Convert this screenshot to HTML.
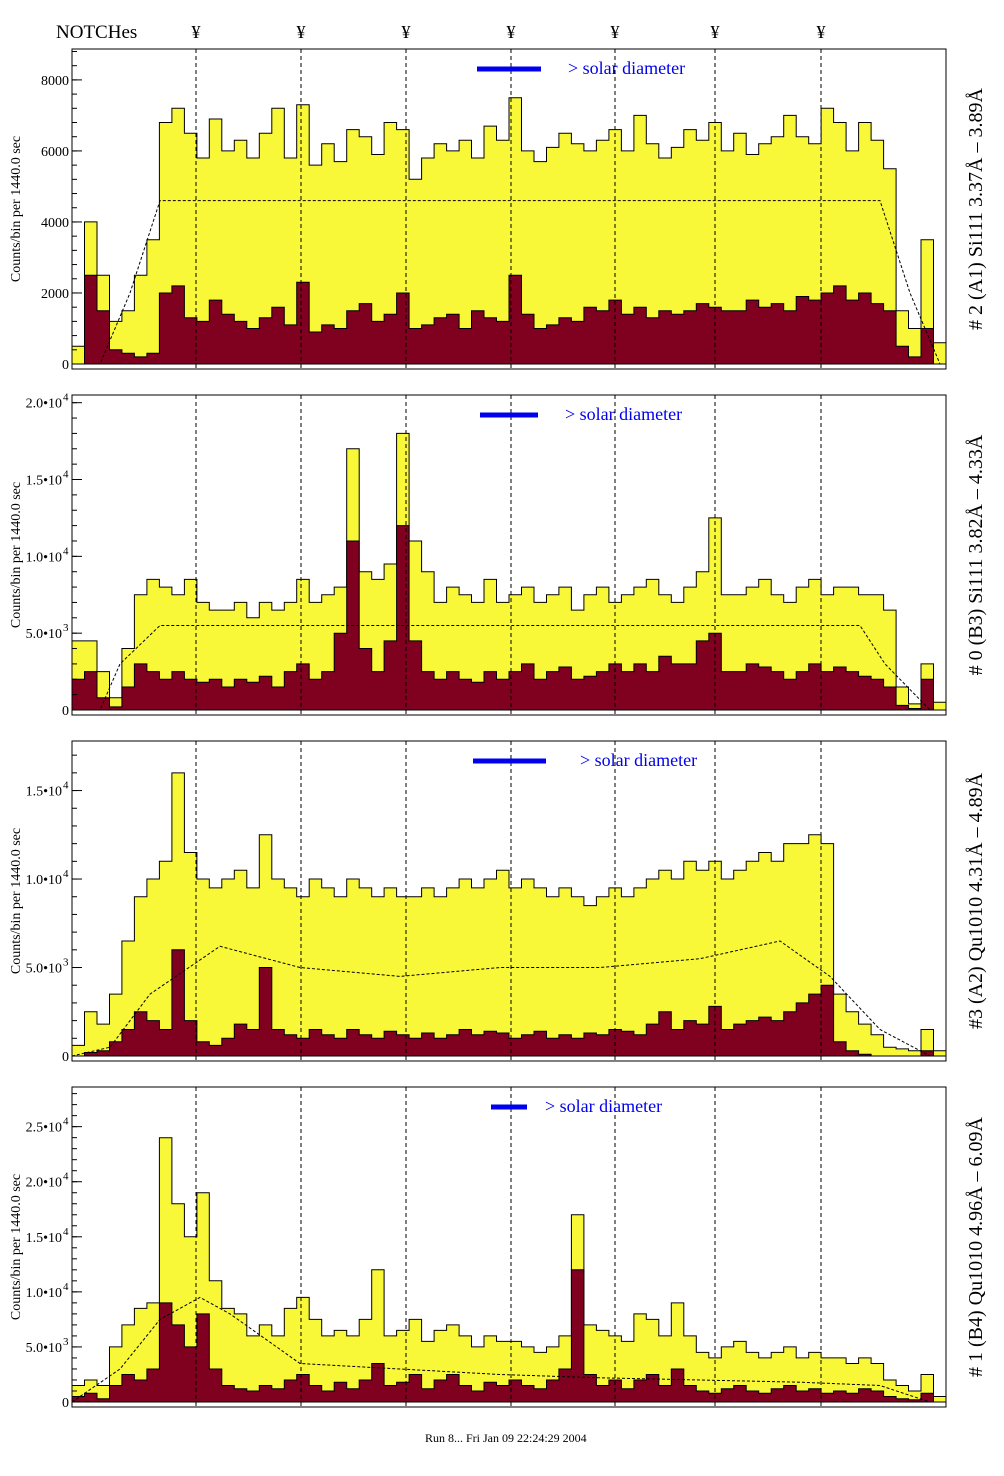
<!DOCTYPE html>
<html><head><meta charset="utf-8"><title>Notch spectra</title>
<style>
html,body{margin:0;padding:0;background:#fff;}
svg{display:block;font-family:"Liberation Serif",serif;}
</style></head>
<body>
<svg id="chart" width="1004" height="1476" viewBox="0 0 1004 1476" xmlns="http://www.w3.org/2000/svg">
<rect x="0" y="0" width="1004" height="1476" fill="#fff"/>
<text x="56" y="38" font-size="19">NOTCHes</text>
<g id="notchLabels"></g>
<g id="panels"></g>
<text x="425" y="1442" font-size="12">Run 8... Fri Jan 09 22:24:29 2004</text>
</svg>
<script>
// ---- data ----
const notchX = [196, 301, 406, 511, 615, 715, 821];
const panelLabels = ["# 2 (A1) Si111  3.37Å – 3.89Å", "# 0 (B3) Si111  3.82Å – 4.33Å", "#3 (A2) Qu1010  4.31Å – 4.89Å", "# 1 (B4) Qu1010 4.96Å – 6.09Å"];
const yMax = [8870, 20500, 17800, 28600];
const tickValsP1 = [0, 2000, 4000, 6000, 8000];
const tickLabsP1 = ["0", "2000", "4000", "6000", "8000"];
const tickValsP2 = [0, 5000, 10000, 15000, 20000];
const tickLabsP2 = ["0", "5.0", "1.0", "1.5", "2.0"];
const tickExpP2 = ["", "3", "4", "4", "4"];
const tickValsP3 = [0, 5000, 10000, 15000];
const tickLabsP3 = ["0", "5.0", "1.0", "1.5"];
const tickExpP3 = ["", "3", "4", "4"];
const tickValsP4 = [0, 5000, 10000, 15000, 20000, 25000];
const tickLabsP4 = ["0", "5.0", "1.0", "1.5", "2.0", "2.5"];
const tickExpP4 = ["", "3", "4", "4", "4", "4"];

const yellowP1 = [500,4000,2500,1200,1500,2500,3500,6800,7200,6500,5800,6900,6000,6300,5800,6500,7200,5800,7300,5600,6200,5700,6600,6400,5900,6800,6600,5200,5800,6200,6000,6300,5800,6700,6300,7500,6000,5700,6100,6500,6200,6000,6300,6600,6000,7000,6200,5800,6100,6600,6300,6800,6000,6500,5900,6200,6400,7000,6400,6200,7200,6800,6000,6800,6300,5500,1500,1000,3500,600];
const darkP1 = [0,2500,1500,400,300,200,300,2000,2200,1300,1200,1800,1400,1200,1000,1300,1600,1100,2300,900,1100,1000,1500,1700,1200,1400,2000,1000,1100,1300,1400,1000,1500,1300,1200,2500,1400,1000,1100,1300,1200,1600,1500,1800,1400,1600,1300,1500,1400,1500,1700,1600,1500,1500,1800,1600,1700,1500,1900,1800,2000,2200,1800,2000,1700,1500,500,200,1000,0];
const yellowP2 = [4500,4500,2500,800,4000,7500,8500,8000,7500,8500,7000,6500,6500,7000,6000,7000,6500,7000,8500,7000,7500,8000,17000,9000,8500,9500,18000,11000,9000,7000,8000,7500,7000,8500,7000,7500,8000,7000,7500,8000,6500,7500,8000,7000,7500,8000,8500,7500,7000,8000,9000,12500,7500,7500,8000,8500,7500,7000,8000,8500,7500,8000,8000,7500,7500,6500,1500,400,3000,500];
const darkP2 = [2000,2500,800,200,1500,3000,2500,2000,2500,2000,1800,2000,1500,2000,1800,2200,1500,2500,3000,2000,2500,5000,11000,4000,2500,4500,12000,4500,2500,2000,2500,2000,1800,2500,2000,2500,3000,2000,2500,2800,2000,2200,2500,3000,2500,3000,2500,3500,3000,3000,4500,5000,2500,2500,3000,2800,2500,2000,2500,3000,2500,2800,2500,2200,2000,1500,300,100,2000,0];
const yellowP3 = [600,2500,1800,3500,6500,9000,10000,11000,16000,11500,10000,9500,10000,10500,9500,12500,10000,9500,9000,10000,9500,9000,10000,9500,9000,9500,9000,9000,9500,9000,9500,10000,9500,10000,10500,9500,10000,9500,9000,9500,9000,8500,9000,9500,9000,9500,10000,10500,10000,11000,10500,11000,10000,10500,11000,11500,11000,12000,12000,12500,12000,3500,2500,1800,1200,500,400,300,1500,300];
const darkP3 = [0,200,300,800,1500,2500,2000,1500,6000,2000,800,600,1000,1800,1500,5000,1500,1200,1000,1500,1200,1000,1500,1200,1000,1400,1200,1000,1300,1000,1200,1500,1200,1400,1300,1000,1200,1400,1000,1200,1000,1300,1200,1500,1400,1200,1800,2500,1500,2000,1800,2800,1500,1800,2000,2200,2000,2500,3000,3500,4000,800,300,100,0,0,0,0,300,0];
const yellowP4 = [1500,2000,1500,5000,7000,8500,9000,24000,18000,15000,19000,11000,8500,8000,6000,7000,6000,8500,9500,7500,6000,6500,6000,7500,12000,6000,6500,7500,5500,6500,7000,6000,5000,6000,5500,5500,5000,4500,5000,6000,17000,7000,6500,6000,5500,8000,7500,6000,9000,6000,4500,4000,5000,5500,4500,4000,4500,5000,4000,4500,4000,4000,3500,4000,3500,2000,1500,1000,2500,500];
const darkP4 = [500,800,300,1500,2500,2000,3000,9000,7000,5000,8000,3000,1500,1200,1000,1500,1200,2000,2500,1500,1000,1800,1200,2000,3500,1500,1800,2500,1200,2000,2500,1500,1000,1800,1500,2000,1500,1200,2000,3000,12000,2500,1500,2000,1200,2000,2500,1500,3000,1500,1000,800,1200,1500,1000,800,1200,1500,1000,1200,800,1000,800,1200,1000,500,300,200,800,0];

const yellowSeries = [yellowP1, yellowP2, yellowP3, yellowP4];
const darkSeries = [darkP1, darkP2, darkP3, darkP4];
const tickVals = [tickValsP1, tickValsP2, tickValsP3, tickValsP4];
const tickLabs = [tickLabsP1, tickLabsP2, tickLabsP3, tickLabsP4];
const tickExps = [null, tickExpP2, tickExpP3, tickExpP4];
const modelXs = [[72,100,130,160,880,910,940],[72,100,120,160,860,885,930],[72,110,150,220,300,400,500,600,700,780,830,880,930],[72,120,160,200,230,300,400,500,600,700,800,880,930]];
const modelYs = [[0,0,2000,4600,4600,2000,0],[0,0,3000,5500,5500,3000,0],[0,500,3500,6200,5000,4500,5000,5000,5500,6500,4500,1500,0],[0,3000,7500,9500,8000,3500,3000,2500,2200,2000,1800,1500,0]];

// ---- layout ----
const NS = "http://www.w3.org/2000/svg";
const X0 = 72, X1 = 946, PH = 320;
const panelTop = [49, 395, 741, 1087];
const blueBar = [[477,541,568],[480,538,565],[473,546,580],[491,527,545]];

function mk(tag, attrs, parent) {
  const e = document.createElementNS(NS, tag);
  for (const k in attrs) e.setAttribute(k, attrs[k]);
  parent.appendChild(e);
  return e;
}
function xScale(i, n) { return X0 + (X1 - X0) * i / n; }
function yScale(p, v) { const bottom = panelTop[p] + PH - 5; return bottom - (bottom - panelTop[p]) * v / yMax[p]; }

const notchG = document.getElementById('notchLabels');
notchX.forEach((x, i) => {
  const t = mk('text', {x: x, y: 38, 'font-size': 18, 'text-anchor': 'middle'}, notchG);
  
  
  t.textContent = '¥';
});

const panelsG = document.getElementById('panels');
for (let p = 0; p < 4; p++) {
  const top = panelTop[p], bottom = top + PH;
  const g = mk('g', {}, panelsG);
  
  
  const clipId = 'clip' + p;
  const cp = mk('clipPath', {id: clipId}, g);
  mk('rect', {x: X0, y: top, width: X1 - X0, height: PH}, cp);
  const plot = mk('g', {'clip-path': 'url(#' + clipId + ')'}, g);
  
  

  [[yellowSeries[p], '#f8f838', 'yellow-histogram'], [darkSeries[p], '#800020', 'dark-histogram']].forEach(([arr, col, nm]) => {
    const n = arr.length;
    const y0 = yScale(p, 0);
    let d = 'M' + X0 + ',' + y0;
    arr.forEach((v, i) => {
      const y = yScale(p, v);
      d += ' L' + xScale(i, n).toFixed(1) + ',' + y.toFixed(1) + ' L' + xScale(i + 1, n).toFixed(1) + ',' + y.toFixed(1);
    });
    d += ' L' + X1 + ',' + y0 + ' Z';
    const path = mk('path', {d: d, fill: col, stroke: '#000', 'stroke-width': 1}, plot);
    
    
  });

  let md = '';
  modelXs[p].forEach((x, i) => { md += (i ? ' L' : 'M') + x + ',' + yScale(p, modelYs[p][i]).toFixed(1); });
  const mc = mk('path', {d: md, fill: 'none', stroke: '#000', 'stroke-width': 1, 'stroke-dasharray': '3,2'}, plot);
  
  

  notchX.forEach(x => {
    const l = mk('line', {x1: x, x2: x, y1: top, y2: bottom, stroke: '#000', 'stroke-width': 1, 'stroke-dasharray': '4,3'}, plot);
    
    
  });

  const fr = mk('rect', {x: X0, y: top, width: X1 - X0, height: PH, fill: 'none', stroke: '#000', 'stroke-width': 1}, g);
  
  

  tickVals[p].forEach((v, i) => {
    const y = yScale(p, v);
    const tk = mk('line', {x1: X0, x2: X0 + 10, y1: y, y2: y, stroke: '#000'}, g);
    
    
    const t = mk('text', {x: X0 - 3, y: y + 5, 'font-size': 14, 'text-anchor': 'end'}, g);
    
    
    const ex = tickExps[p];
    if (ex && ex[i]) {
      t.textContent = tickLabs[p][i] + '•10';
      t.setAttribute('x', X0 - 10);
      const s = mk('text', {x: X0 - 9, y: y - 2, 'font-size': 11}, g);
      
      
      s.textContent = ex[i];
    } else {
      t.textContent = tickLabs[p][i];
    }
  });
  const step = tickVals[p][1] / 5;
  for (let v = 0; v <= yMax[p]; v += step) {
    const y = yScale(p, v);
    const mt = mk('line', {x1: X0, x2: X0 + 5, y1: y, y2: y, stroke: '#000'}, g);
    
    
  }

  const cy = top + PH / 2;
  const yt = mk('text', {x: 20, y: cy, 'font-size': 14, 'text-anchor': 'middle', transform: 'rotate(-90 20 ' + cy + ')'}, g);
  
  
  yt.setAttribute('xml:space', 'preserve');
  yt.textContent = 'Counts/bin per   1440.0 sec';

  const rl = mk('text', {x: 982, y: cy, 'font-size': 20, 'text-anchor': 'middle', transform: 'rotate(-90 982 ' + cy + ')'}, g);
  
  
  rl.setAttribute('xml:space', 'preserve');
  rl.textContent = panelLabels[p];

  const bb = blueBar[p];
  const bl = mk('line', {x1: bb[0], x2: bb[1], y1: top + 20, y2: top + 20, stroke: '#0000ee', 'stroke-width': 5}, g);
  
  
  const bt = mk('text', {x: bb[2], y: top + 25, 'font-size': 18, fill: '#0000ee'}, g);
  
  
  bt.textContent = '> solar diameter';
}
</script>
</body></html>
